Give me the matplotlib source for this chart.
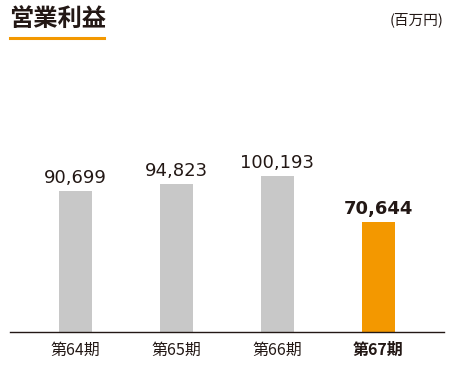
import matplotlib
matplotlib.use("Agg")
import matplotlib.pyplot as plt
from matplotlib.lines import Line2D

plt.rcParams['font.family'] = ['Noto Sans CJK JP', 'DejaVu Sans']

periods = ['第64期', '第65期', '第66期', '第67期']
profit = [90699, 94823, 100193, 70644]
bar_colors = ['#c8c8c8', '#c8c8c8', '#c8c8c8', '#f39800']

W, H = 456, 366
fig = plt.figure(figsize=(W / 100, H / 100), dpi=100)
ax = fig.add_axes([10 / W, (H - 332) / H, 434 / W, 292 / H])

x = list(range(len(periods)))
bars = ax.bar(x, profit, width=0.33, color=bar_colors, zorder=2)
ax.set_xlim(-0.65, 3.65)
ax.set_ylim(0, 187600)

for i, (b, v) in enumerate(zip(bars, profit)):
    last = i == len(profit) - 1
    ax.annotate(f'{v:,}', (b.get_x() + b.get_width() / 2, v),
                xytext=(0, 3), textcoords='offset points',
                ha='center', va='bottom', fontsize=13,
                fontweight='bold' if last else 'normal',
                color='#231815', family=['DejaVu Sans'])

ax.set_xticks(x)
ax.set_xticklabels(periods, fontsize=11.5, color='#231815')
for i, t in enumerate(ax.get_xticklabels()):
    if i == len(periods) - 1:
        t.set_fontweight('bold')
ax.tick_params(axis='x', length=0, pad=7)
ax.set_yticks([])
for s in ['top', 'right', 'left']:
    ax.spines[s].set_visible(False)
ax.spines['bottom'].set_color('#231815')
ax.spines['bottom'].set_linewidth(1.0)

fig.text(9 / W, 1 - 19 / H, '営業利益', fontsize=17.5, fontweight='bold',
         color='#231815', va='center', ha='left')
fig.add_artist(Line2D([10 / W, 104 / W], [1 - 38 / H, 1 - 38 / H],
                      color='#f39800', lw=2.2, transform=fig.transFigure))
fig.text(444 / W, 1 - 20 / H, '(百万円)', fontsize=10.5, color='#231815',
         va='center', ha='right')

fig.savefig('out.png', dpi=100)
